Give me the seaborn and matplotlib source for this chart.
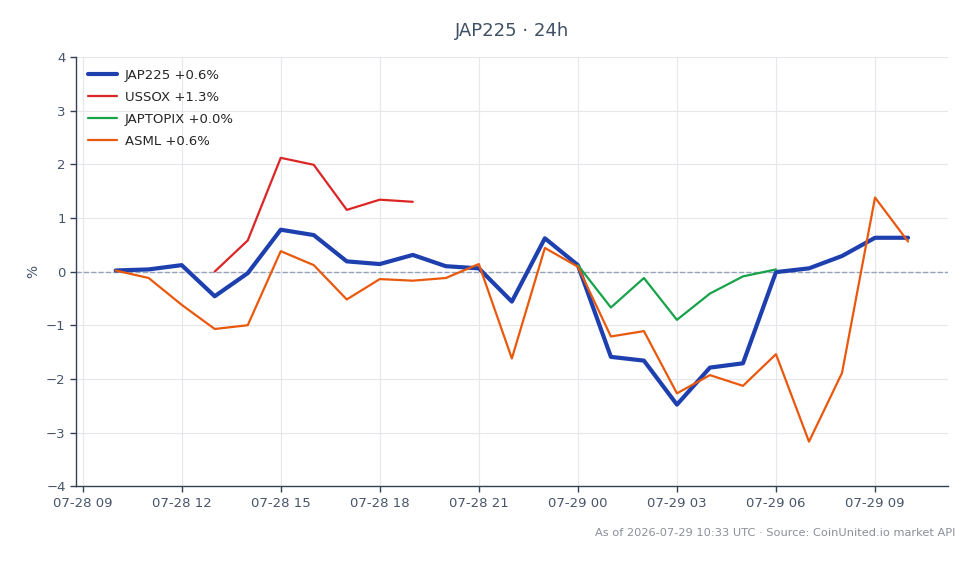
import pandas as pd
import numpy as np
import seaborn as sns
import matplotlib.pyplot as plt
import matplotlib.dates as mdates

# horas de 07-28 10:00 ate 07-29 10:00
horas = pd.date_range('2026-07-28 10:00', '2026-07-29 10:00', freq='h')

jap225 = [0.02, 0.04, 0.12, -0.46, -0.03, 0.78, 0.68, 0.19, 0.14, 0.31, 0.10, 0.06,
          -0.56, 0.62, 0.12, -1.59, -1.66, -2.48, -1.79, -1.71, -0.01, 0.06, 0.29, 0.63, 0.63]
nan = np.nan
ussox = [nan, nan, nan, 0.0, 0.58, 2.12, 1.99, 1.15, 1.34, 1.30, nan, nan,
         nan, nan, nan, nan, nan, nan, nan, nan, nan, nan, nan, nan, nan]
japtopix = [nan, nan, nan, nan, nan, nan, nan, nan, nan, nan, nan, nan,
            nan, nan, 0.12, -0.67, -0.12, -0.90, -0.41, -0.09, 0.04, nan, nan, nan, nan]
asml = [0.02, -0.12, -0.62, -1.07, -1.00, 0.38, 0.12, -0.52, -0.14, -0.17, -0.12, 0.14,
        -1.62, 0.44, 0.09, -1.21, -1.11, -2.27, -1.93, -2.13, -1.54, -3.17, -1.89, 1.38, 0.56]

nomes = ['JAP225', 'USSOX', 'JAPTOPIX', 'ASML']
legendas = ['JAP225 +0.6%', 'USSOX +1.3%', 'JAPTOPIX +0.0%', 'ASML +0.6%']
cores = ['#1e40af', '#dc2626', '#16a34a', '#ea580c']
larguras = [3.0, 1.6, 1.6, 1.6]

df = pd.DataFrame({'hora': horas, 'JAP225': jap225, 'USSOX': ussox,
                   'JAPTOPIX': japtopix, 'ASML': asml})

sns.set_style('white')
plt.rcParams['font.family'] = ['DejaVu Sans']
texto = '#475569'

fig = plt.figure(figsize=(9.8, 5.64), dpi=100)
ax = fig.add_axes([0.0776, 0.138, 0.8894, 0.761])

for nome, leg, cor, lw in zip(nomes, legendas, cores, larguras):
    sns.lineplot(data=df, x='hora', y=nome, ax=ax, color=cor, linewidth=lw, label=leg)

ax.axhline(0, color='#94a3b8', linewidth=1, linestyle='--', zorder=1)

ax.set_ylim(-4, 4)
ax.set_yticks(range(-4, 5))
ax.xaxis.set_major_locator(mdates.HourLocator(byhour=range(0, 24, 3)))
ax.xaxis.set_major_formatter(mdates.DateFormatter('%m-%d %H'))
ax.margins(x=0.05)

ax.grid(True, color='#e5e7eb', linewidth=0.8)
ax.set_axisbelow(True)
for lado in ['top', 'right']:
    ax.spines[lado].set_visible(False)
for lado in ['left', 'bottom']:
    ax.spines[lado].set_color('#334155')
    ax.spines[lado].set_linewidth(1.0)
ax.tick_params(axis='both', colors='#334155', labelcolor=texto, labelsize=9.5,
               length=4, width=1, direction='out', left=True, bottom=True)

ax.set_xlabel('')
ax.set_ylabel('%', color=texto, fontsize=10)
ax.set_title('JAP225 · 24h', color='#3f4f63', fontsize=13, pad=15)

ax.legend(loc='upper left', frameon=False, fontsize=9.5, handlelength=2.2,
          handletextpad=0.6, borderaxespad=0.5, labelspacing=0.68)

fig.text(0.975, 0.055, 'As of 2026-07-29 10:33 UTC · Source: CoinUnited.io market API',
         ha='right', va='center', fontsize=8.2, color='#8a8f98')

plt.savefig('out.png', dpi=100)
